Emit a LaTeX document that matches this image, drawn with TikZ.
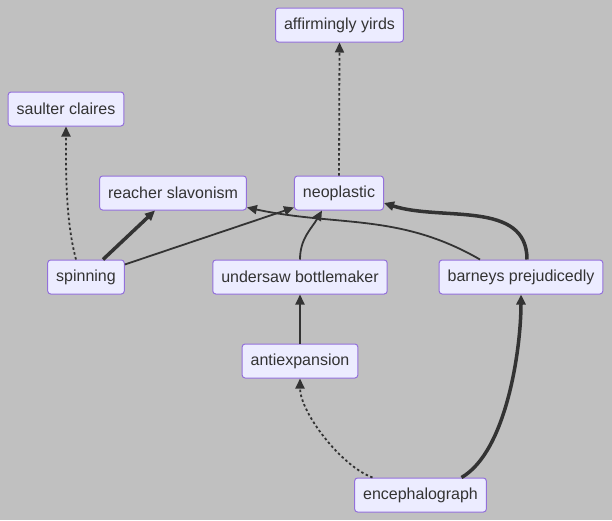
\documentclass[tikz,border=0pt]{standalone}
\usepackage{fontspec}
\setmainfont{Liberation Sans}
\usetikzlibrary{arrows.meta}
\definecolor{canvas}{RGB}{192,192,192}
\definecolor{boxfill}{RGB}{236,236,255}
\definecolor{boxline}{RGB}{147,112,219}
\definecolor{ink}{RGB}{51,51,51}
\tikzset{
  box/.style={draw=boxline,fill=boxfill,line width=1pt,rounded corners=3pt,
    minimum height=34pt,inner xsep=8.5pt,text=ink,font=\fontsize{16}{18}\selectfont},
  link/.style={draw=ink,line width=1.8pt,-{Triangle[length=10pt,width=9pt]}},
  thicklink/.style={link,line width=3.5pt},
  dotlink/.style={link,dash pattern=on 2.5pt off 2.5pt}
}

\begin{document}
\begin{tikzpicture}[x=1pt,y=-1pt]
 \fill[canvas] (0,0) rectangle (612,520);
 \useasboundingbox (0,0) rectangle (612,520);
 % nodes
 \node[box] (aff) at (339.5,25){affirmingly yirds};
 \node[box] (saul) at (66,109){saulter claires};
 \node[box] (reach) at (173,193){reacher slavonism};
 \node[box] (neo) at (339,193){neoplastic};
 \node[box] (spin) at (86,277){spinning};
 \node[box] (und) at (300,277){undersaw bottlemaker};
 \node[box] (barn) at (521,277){barneys prejudicedly};
 \node[box] (anti) at (300,361){antiexpansion};
 \node[box] (enc) at (420.5,495){encephalograph};
 % links
 \draw[dotlink] ([xshift=-10pt]spin.north) to[out=105,in=-90,looseness=0.8] (saul.south);
 \draw[thicklink] ([xshift=17pt]spin.north) -- ([xshift=-18pt]reach.south);
 \draw[link] ([yshift=-5pt]spin.north east) -- ([yshift=3pt]neo.south west);
 \draw[link] (und.north) to[out=90,in=-120] ([xshift=-17pt]neo.south);
 \draw[link] ([xshift=-41pt]barn.north) to[out=150,in=-12] ([yshift=3pt]reach.south east);
 \draw[thicklink] ([xshift=6pt]barn.north) to[out=90,in=-18] ([yshift=-10pt]neo.east);
 \draw[dotlink] (neo.north) -- (aff.south);
 \draw[link] (anti.north) -- (und.south);
 \draw[dotlink] ([xshift=-48pt]enc.north) to[out=160,in=-90,looseness=0.7] (anti.south);
 \draw[thicklink] ([xshift=41pt]enc.north) to[out=30,in=-90,looseness=0.7] (barn.south);
\end{tikzpicture}
\end{document}
